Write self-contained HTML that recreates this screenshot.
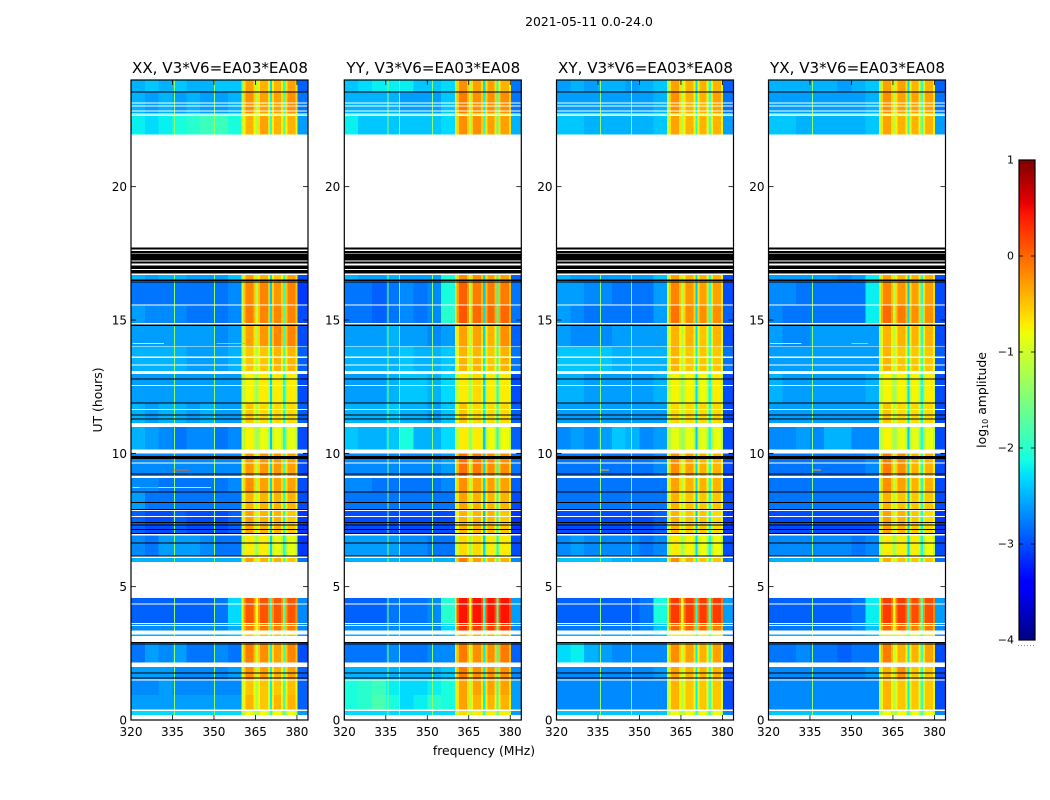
<!DOCTYPE html>
<html>
<head>
<meta charset="utf-8">
<title>2021-05-11 0.0-24.0</title>
<style>
html,body{margin:0;padding:0;background:#fff;width:1050px;height:800px;overflow:hidden}
svg{display:block}
text{font-family:"DejaVu Sans","Liberation Sans",sans-serif;fill:#000}
</style>
</head>
<body>
<svg id="figure" xmlns="http://www.w3.org/2000/svg" width="1050" height="800" viewBox="0 0 1050 800">
<text x="589" y="26" font-size="12.4" text-anchor="middle">2021-05-11 0.0-24.0</text>
<text transform="translate(102,400) rotate(-90)" font-size="12.4" text-anchor="middle">UT (hours)</text>
<text x="484" y="755" font-size="12.4" text-anchor="middle">frequency (MHz)</text>
<text transform="translate(986,400) rotate(-90)" font-size="12.4" text-anchor="middle">log<tspan font-size="8" dy="2">10</tspan><tspan dy="-2"> amplitude</tspan></text>
<g id="panels"></g>
<g id="colorbar"></g>
</svg>
<script>
// Frequency cells (MHz). Matrix columns: 8 background cells, edge cell, 4 band blocks, right cell.
var freqEdges = [320,325,330,335,340,345,350,355,360,360.6];
var blockStart = [360.6,365.8,370.9,375.7];
var blockEnd = [365,370.2,375,380.2];
var rightStart = 380.2, rightEnd = 384;
// Time rows (hours), top of image first.
var rowStart = [24,23.53,22.72,22.65,16.68,16.42,15.54,14.78,14,12.98,11.88,10.98,10,9.07,8.55,7.83,6.91,6.08,4.57,3.6,3.21,2.93,1.98,1.48,.94,.34];
var rowEnd = [23.56,22.75,22.68,21.95,16.42,15.59,14.88,14.03,13.08,11.91,11.13,10.15,9.15,8.56,7.88,6.99,6.15,5.92,3.64,3.35,3.15,2.15,1.52,.94,.39,.19];
// Narrow gaps between the band blocks, log10 amplitude per row.
var gapStart = [365,370.2,375];
var gapEnd = [365.8,370.9,375.7];
var gapValues365 = [-1.2,-1.2,-1,-1.2,-1.2,-1.2,-1.1,-1.2,-1.2,-1.3,-1.2,-1.3,-1.2,-1.2,-1.2,-1.2,-1.3,-1.1,-.9,-.9,-1.1,-1.1,-1.2,-1.2,-1.2,-1.2];
var gapValues370 = [-2.3,-2.2,-1.3,-2,-2.3,-2.4,-2.3,-2.3,-2.2,-2.3,-2.2,-2.4,-2.3,-2.3,-2.4,-2.4,-2.3,-2.1,-2.1,-2,-1.9,-2.2,-2.2,-2.2,-2.2,-2];
var gapValues375 = [-2,-1.9,-1.2,-1.7,-2,-2,-1.9,-2,-1.9,-2.1,-2,-2.1,-2,-2,-2,-2.1,-2.1,-1.9,-1.8,-1.7,-1.7,-1.9,-1.9,-1.9,-1.9,-1.8];
// log10 amplitude per row and column.
var valuesXX = [
[-2.5,-2.4,-2.5,-2.4,-2.5,-2.5,-2.4,-2.4,-1.4,-.3,-.4,-.4,-.3,-2.9],
[-2.5,-2.6,-2.5,-2.6,-2.5,-2.6,-2.6,-2.5,-1.2,-.2,-.3,-.3,-.2,-2.8],
[-2,-2,-1.9,-1.9,-1.9,-1.9,-1.9,-1.9,-1,-.8,-.8,-.8,-.8,-2.2],
[-2.2,-2.3,-2.2,-2.1,-2,-1.9,-1.9,-2.1,-1,-.4,-.3,-.4,-.4,-2.6],
[-2.5,-2.6,-2.5,-2.5,-2.6,-2.6,-2.6,-2.4,-1.2,-.3,-.4,-.5,-.3,-3],
[-2.8,-2.8,-2.8,-2.8,-2.8,-2.8,-2.8,-2.7,-1.1,-.15,-.15,-.25,-.15,-3.1],
[-2.6,-2.7,-2.7,-2.7,-2.8,-2.8,-2.8,-2.7,-1.1,-.1,-.15,-.15,-.15,-3],
[-2.6,-2.6,-2.6,-2.6,-2.6,-2.6,-2.7,-2.6,-1.2,-.3,-.25,-.15,-.15,-3],
[-2.5,-2.5,-2.5,-2.5,-2.6,-2.6,-2.6,-2.5,-1.2,-.5,-.5,-.4,-.4,-2.9],
[-2.6,-2.6,-2.6,-2.6,-2.6,-2.6,-2.6,-2.6,-1.1,-.75,-.7,-.7,-.7,-3],
[-2.5,-2.6,-2.5,-2.5,-2.6,-2.5,-2.6,-2.6,-1.1,-.5,-.6,-.6,-.6,-2.9],
[-2.5,-2.6,-2.7,-2.8,-2.7,-2.7,-2.8,-2.7,-1.1,-.75,-.85,-.85,-.85,-3],
[-2.7,-2.7,-2.7,-2.7,-2.7,-2.7,-2.7,-2.7,-1,-.25,-.25,-.25,-.3,-3],
[-2.7,-2.7,-2.8,-2.8,-2.8,-2.8,-2.8,-2.7,-1,-.2,-.3,-.3,-.3,-3],
[-2.6,-2.8,-2.8,-2.8,-2.8,-2.8,-2.8,-2.8,-1.1,-.4,-.4,-.4,-.4,-3],
[-2.9,-3,-3,-2.9,-3,-3,-3,-2.9,-1.1,-.3,-.4,-.4,-.5,-3.1],
[-2.7,-2.8,-2.6,-2.6,-2.6,-2.7,-2.8,-2.8,-1.1,-.7,-.7,-.85,-.85,-3.1],
[-2.5,-2.5,-2.5,-2.5,-2.5,-2.5,-2.5,-2.5,-1,-.3,-.4,-.4,-.5,-2.8],
[-2.9,-2.9,-2.9,-2.9,-2.9,-2.9,-2.8,-2.3,-.9,.1,.1,.1,.1,-2.7],
[-2.7,-2.7,-2.7,-2.7,-2.7,-2.7,-2.7,-2.5,-.9,-.1,-.1,-.1,-.1,-2.7],
[-2.5,-2.5,-2.5,-2.5,-2.5,-2.5,-2.5,-2.4,-1,-.5,-.5,-.5,-.5,-2.6],
[-2.8,-2.6,-2.7,-2.6,-2.8,-2.8,-2.7,-2.8,-1,-.1,-.2,-.3,-.15,-3],
[-2.6,-2.6,-2.6,-2.7,-2.7,-2.7,-2.7,-2.6,-1,-.2,-.3,-.4,-.3,-2.9],
[-2.7,-2.7,-2.6,-2.7,-2.7,-2.7,-2.7,-2.7,-1,-.5,-.5,-.5,-.45,-2.9],
[-2.6,-2.6,-2.6,-2.6,-2.6,-2.6,-2.6,-2.6,-1,-.4,-.5,-.4,-.4,-2.9],
[-2.3,-2.3,-2.3,-2.3,-2.3,-2.3,-2.3,-2.3,-1.1,-.8,-.8,-.8,-.8,-2.6]
];
var valuesYY = [
[-2.4,-2.3,-2.2,-2.2,-2.2,-2.4,-2.4,-2.3,-1.2,-.2,-.3,-.3,-.4,-2.8],
[-2.5,-2.5,-2.5,-2.5,-2.6,-2.6,-2.6,-2.4,-1.1,-.1,-.2,-.2,-.2,-2.8],
[-2,-2,-1.9,-1.9,-1.9,-1.9,-1.9,-1.9,-1,-.7,-.7,-.7,-.7,-2.2],
[-2.2,-2.4,-2.4,-2.4,-2.4,-2.4,-2.4,-2.3,-1,-.2,-.2,-.3,-.3,-2.5],
[-2.5,-2.6,-2.6,-2.5,-2.6,-2.6,-2.6,-2.1,-1,-.2,-.2,-.3,-.3,-2.9],
[-2.8,-2.8,-2.9,-2.8,-2.7,-2.8,-2.7,-2.1,-.9,.05,-.1,-.1,-.1,-2.8],
[-2.8,-2.8,-2.9,-2.8,-2.7,-2.8,-2.7,-2,-.8,.1,0,0,0,-2.8],
[-2.6,-2.6,-2.6,-2.5,-2.6,-2.6,-2.7,-2.6,-1,-.3,-.3,-.4,-.2,-2.9],
[-2.5,-2.5,-2.5,-2.5,-2.4,-2.5,-2.5,-2.4,-1.1,-.4,-.4,-.5,-.4,-2.8],
[-2.6,-2.6,-2.6,-2.5,-2.4,-2.4,-2.5,-2.3,-1,-.7,-.6,-.7,-.7,-3],
[-2.5,-2.5,-2.5,-2.4,-2.5,-2.5,-2.6,-2.4,-1,-.5,-.6,-.6,-.6,-2.9],
[-2.4,-2.5,-2.5,-2.4,-2.1,-2.5,-2.5,-2.3,-1.1,-.7,-.7,-.8,-.8,-2.9],
[-2.7,-2.7,-2.7,-2.7,-2.7,-2.7,-2.7,-2.6,-1,-.05,-.1,-.2,-.2,-2.8],
[-2.7,-2.7,-2.8,-2.8,-2.8,-2.8,-2.8,-2.7,-1,-.2,-.3,-.3,-.3,-2.9],
[-2.8,-2.8,-2.8,-2.8,-2.8,-2.8,-2.8,-2.8,-1.1,-.3,-.4,-.4,-.4,-3],
[-3,-3,-3,-3,-3,-3,-3,-3,-1.1,-.4,-.4,-.4,-.5,-3.1],
[-2.6,-2.6,-2.6,-2.6,-2.7,-2.7,-2.8,-2.8,-1.1,-.6,-.6,-.7,-.7,-3],
[-2.5,-2.5,-2.5,-2.5,-2.5,-2.5,-2.5,-2.5,-1,-.1,-.3,-.4,-.4,-2.7],
[-2.9,-2.9,-2.9,-2.8,-2.8,-2.8,-2.7,-2,-.8,.45,.45,.45,.45,-2.6],
[-2.7,-2.7,-2.7,-2.7,-2.7,-2.7,-2.7,-2.3,-.9,.3,.25,.25,.25,-2.7],
[-2.5,-2.5,-2.5,-2.5,-2.5,-2.5,-2.5,-2.4,-1,-.4,-.4,-.4,-.4,-2.6],
[-2.8,-2.8,-2.8,-2.7,-2.8,-2.8,-2.7,-2.7,-1,-.1,-.2,-.2,-.1,-2.9],
[-2.5,-2.5,-2.5,-2.5,-2.5,-2.5,-2.5,-2.4,-1,-.1,-.2,-.2,-.2,-2.7],
[-2.1,-2,-1.9,-2.2,-2.3,-2.3,-2.2,-2.1,-1,-.3,-.3,-.3,-.3,-2.6],
[-2.1,-2,-1.8,-2.1,-2.3,-2.2,-2,-2.1,-1,-.3,-.4,-.4,-.4,-2.6],
[-2.3,-2.3,-2.3,-2.3,-2.3,-2.3,-2.3,-2.3,-1.1,-.6,-.7,-.7,-.7,-2.6]
];
var valuesXY = [
[-2.6,-2.5,-2.6,-2.5,-2.5,-2.6,-2.5,-2.4,-1.3,-.3,-.4,-.4,-.4,-2.9],
[-2.6,-2.6,-2.6,-2.6,-2.6,-2.6,-2.6,-2.5,-1.2,-.2,-.4,-.4,-.3,-2.8],
[-2,-2,-2,-2,-2,-2,-2,-1.9,-1,-.8,-.8,-.8,-.8,-2.2],
[-2.4,-2.4,-2.5,-2.5,-2.5,-2.5,-2.5,-2.4,-1,-.3,-.4,-.4,-.4,-2.6],
[-2.5,-2.6,-2.6,-2.6,-2.6,-2.6,-2.6,-2.4,-1.1,-.3,-.4,-.4,-.4,-3],
[-2.6,-2.6,-2.7,-2.7,-2.8,-2.8,-2.8,-2.6,-1,-.15,-.25,-.3,-.3,-3],
[-2.6,-2.7,-2.8,-2.8,-2.8,-2.8,-2.8,-2.6,-1,-.05,-.2,-.2,-.2,-2.9],
[-2.6,-2.7,-2.7,-2.7,-2.6,-2.6,-2.6,-2.6,-1.1,-.4,-.4,-.5,-.4,-3],
[-2.4,-2.4,-2.4,-2.4,-2.5,-2.5,-2.5,-2.5,-1.1,-.4,-.5,-.5,-.5,-2.8],
[-2.5,-2.5,-2.6,-2.6,-2.6,-2.6,-2.6,-2.5,-1,-.75,-.75,-.8,-.7,-3],
[-2.6,-2.6,-2.6,-2.6,-2.6,-2.6,-2.6,-2.6,-1.1,-.6,-.6,-.6,-.6,-3],
[-2.7,-2.6,-2.7,-2.6,-2.4,-2.5,-2.7,-2.6,-1.1,-.85,-.85,-.85,-.85,-3],
[-2.8,-2.8,-2.8,-2.8,-2.8,-2.8,-2.8,-2.7,-1,-.2,-.3,-.4,-.4,-3],
[-2.8,-2.8,-2.8,-2.8,-2.8,-2.8,-2.8,-2.8,-1,-.3,-.4,-.4,-.4,-3],
[-2.8,-2.8,-2.8,-2.8,-2.8,-2.8,-2.8,-2.8,-1.1,-.4,-.5,-.5,-.5,-3],
[-3,-3,-3,-3,-3,-3,-3,-2.9,-1.1,-.4,-.5,-.5,-.6,-3.1],
[-2.7,-2.6,-2.7,-2.7,-2.7,-2.7,-2.8,-2.7,-1.1,-.7,-.75,-.8,-.8,-3],
[-2.4,-2.4,-2.4,-2.4,-2.5,-2.5,-2.5,-2.5,-1,-.2,-.4,-.5,-.5,-2.8],
[-2.9,-2.9,-2.9,-2.9,-2.9,-2.9,-2.8,-2.1,-.9,.25,.25,.25,.25,-2.6],
[-2.8,-2.8,-2.8,-2.8,-2.8,-2.8,-2.7,-2.4,-1,0,0,0,-.1,-2.7],
[-2.5,-2.5,-2.5,-2.5,-2.5,-2.5,-2.5,-2.4,-1.1,-.7,-.7,-.7,-.7,-2.6],
[-2.3,-2.2,-2.5,-2.6,-2.7,-2.7,-2.7,-2.7,-1,-.2,-.3,-.4,-.3,-3],
[-2.7,-2.7,-2.7,-2.7,-2.7,-2.7,-2.7,-2.6,-1.1,-.3,-.4,-.4,-.4,-3],
[-2.7,-2.7,-2.7,-2.7,-2.7,-2.7,-2.7,-2.7,-1.1,-.4,-.5,-.5,-.5,-3],
[-2.7,-2.7,-2.7,-2.7,-2.7,-2.7,-2.7,-2.7,-1.1,-.4,-.5,-.5,-.5,-3],
[-2.4,-2.4,-2.4,-2.4,-2.4,-2.4,-2.4,-2.4,-1.1,-.8,-.8,-.8,-.8,-2.7]
];
var valuesYX = [
[-2.5,-2.5,-2.5,-2.5,-2.5,-2.6,-2.5,-2.4,-1.3,-.3,-.3,-.4,-.4,-2.9],
[-2.6,-2.6,-2.6,-2.6,-2.6,-2.6,-2.6,-2.5,-1.2,-.2,-.3,-.3,-.3,-2.8],
[-2,-2,-2,-2,-2,-2,-2,-1.9,-1,-.8,-.8,-.8,-.8,-2.2],
[-2.4,-2.4,-2.5,-2.5,-2.5,-2.5,-2.5,-2.4,-1,-.3,-.4,-.4,-.4,-2.6],
[-2.6,-2.6,-2.6,-2.6,-2.6,-2.7,-2.6,-2.2,-1.1,-.3,-.4,-.4,-.4,-3],
[-2.7,-2.7,-2.8,-2.8,-2.8,-2.8,-2.8,-2.2,-1,-.15,-.25,-.3,-.3,-3],
[-2.7,-2.8,-2.8,-2.8,-2.8,-2.8,-2.8,-2.2,-.9,0,-.1,-.2,-.2,-3],
[-2.6,-2.7,-2.7,-2.6,-2.6,-2.6,-2.6,-2.6,-1.1,-.4,-.4,-.4,-.4,-3],
[-2.6,-2.6,-2.6,-2.6,-2.6,-2.6,-2.6,-2.6,-1.1,-.4,-.5,-.5,-.5,-2.9],
[-2.5,-2.6,-2.6,-2.6,-2.6,-2.6,-2.6,-2.5,-1,-.75,-.75,-.75,-.7,-3],
[-2.6,-2.6,-2.6,-2.6,-2.6,-2.6,-2.6,-2.6,-1.1,-.5,-.6,-.6,-.6,-3],
[-2.7,-2.7,-2.6,-2.7,-2.5,-2.5,-2.7,-2.7,-1.1,-.75,-.85,-.85,-.85,-3],
[-2.8,-2.8,-2.8,-2.8,-2.8,-2.8,-2.8,-2.7,-1,-.1,-.2,-.4,-.4,-3],
[-2.8,-2.8,-2.8,-2.8,-2.8,-2.8,-2.8,-2.8,-1,-.2,-.3,-.4,-.4,-3],
[-2.8,-2.8,-2.8,-2.8,-2.8,-2.8,-2.8,-2.8,-1.1,-.4,-.5,-.5,-.5,-3],
[-3,-3,-3,-3,-3,-3,-3,-3,-1.1,-.3,-.4,-.5,-.6,-3.1],
[-2.7,-2.7,-2.7,-2.7,-2.7,-2.7,-2.8,-2.7,-1.1,-.7,-.7,-.7,-.8,-3],
[-2.5,-2.5,-2.5,-2.5,-2.5,-2.5,-2.5,-2.5,-1,-.4,-.5,-.5,-.5,-2.8],
[-2.9,-2.9,-2.9,-2.9,-2.9,-2.9,-2.8,-2.2,-.9,.25,.25,.15,.15,-2.6],
[-2.8,-2.8,-2.8,-2.8,-2.8,-2.8,-2.7,-2.4,-1,0,0,-.1,-.1,-2.7],
[-2.5,-2.5,-2.5,-2.5,-2.5,-2.5,-2.5,-2.4,-1.1,-.7,-.7,-.7,-.7,-2.6],
[-2.8,-2.8,-2.7,-2.8,-2.8,-2.9,-2.8,-2.8,-1,-.1,-.4,-.4,-.3,-3],
[-2.7,-2.7,-2.7,-2.7,-2.7,-2.7,-2.7,-2.6,-1.1,-.4,-.2,-.5,-.5,-3],
[-2.7,-2.7,-2.7,-2.7,-2.7,-2.7,-2.7,-2.7,-1.1,-.4,-.5,-.5,-.5,-3],
[-2.7,-2.7,-2.7,-2.7,-2.7,-2.7,-2.7,-2.7,-1.1,-.4,-.5,-.5,-.5,-3],
[-2.4,-2.4,-2.4,-2.4,-2.4,-2.4,-2.4,-2.4,-1.1,-.8,-.8,-.8,-.8,-2.7]
];
// Narrow always-on interference channels per panel (MHz) and their amplitude.
var channelsXX = [335.6,350];
var channelsYY = [335.6,339.7,351.7];
var channelsXY = [335.8,347];
var channelsYX = [335.8];
var channelLevel = -1.4;
// Flagged time ranges (hours): [start, end] painted over the data.
var whiteRows = [[23.16,23.13],[23.05,23.02],[22.86,22.83],[22.75,22.72],[22.68,22.65],[15.59,15.54],[14.88,14.84],[13.63,13.57],[13.33,13.3],[12.56,12.54],[11.67,11.65],[9.66,9.63],[7.65,7.62],[4.36,4.33],[3.56,3.54],[1.52,1.48]];
var blackRows = [[23.56,23.53],[17.72,17.64],[17.58,17.52],[17.49,17.24],[17.19,17.12],[17.05,16.92],[16.87,16.74],[16.51,16.47],[16.45,16.42],[14.84,14.78],[12.81,12.78],[11.91,11.88],[11.45,11.42],[11.31,11.28],[9.9,9.79],[9.25,9.22],[8.57,8.55],[8.17,8.13],[7.92,7.88],[7.43,7.41],[7.33,7.31],[7.16,7.12],[7.01,6.97],[6.65,6.61],[6.16,6.13],[2.92,2.9],[2.86,2.84],[1.79,1.76],[1.6,1.57]];
// Bright horizontal streaks: [hour, start MHz, end MHz, log10 amplitude].
var streaksXX = [[14.14,320.5,332,-.8],[14.14,351,362,-.4],[9.4,335,341,.1],[8.73,320.5,349,-1],[8.73,323,330,-.2]];
var streaksYY = [];
var streaksXY = [[9.4,336,339,-.4]];
var streaksYX = [[14.14,320.5,332,-.8],[14.14,350,356,-.5],[9.4,336,339,-.3]];
// Axis ticks.
var freqTicks = [320,335,350,365,380];
var hourTicks = [0,5,10,15,20];
var colorTicks = [1,0,-1,-2,-3,-4];
var colorTickLabels = ['1','0','\u22121','\u22122','\u22123','\u22124'];
var panelTitles = ['XX, V3*V6=EA03*EA08','YY, V3*V6=EA03*EA08','XY, V3*V6=EA03*EA08','YX, V3*V6=EA03*EA08'];
var panelValues = [valuesXX,valuesYY,valuesXY,valuesYX];
var panelChannels = [channelsXX,channelsYY,channelsXY,channelsYX];
var panelStreaks = [streaksXX,streaksYY,streaksXY,streaksYX];
var panelLeft = [131,344.3,556.5,768.5];
var panelWidth = 177, plotTop = 80, plotBottom = 720;
var rimWidth = .7, rimDrop = .35;
var NS = 'http://www.w3.org/2000/svg';

function yScale(h){ return plotBottom - (h/24)*(plotBottom-plotTop); }
function xScale(left,f){ return left + (f-320)/64*panelWidth; }
function colorPos(v){ return 640 - (v+4)/5*480; }
function seg(p,t){
  for(var i=1;i<p.length;i++){ if(t<=p[i][0]){ var a=p[i-1],b=p[i]; return a[1]+(b[1]-a[1])*(t-a[0])/(b[0]-a[0]); } }
  return p[p.length-1][1];
}
var jetR=[[0,0],[.35,0],[.66,1],[.89,1],[1,.5]], jetG=[[0,0],[.125,0],[.375,1],[.64,1],[.91,0],[1,0]], jetB=[[0,.5],[.11,1],[.34,1],[.65,0],[1,0]];
function jet(v){
  var t=Math.max(0,Math.min(1,(v+4)/5));
  return 'rgb('+Math.round(seg(jetR,t)*255)+','+Math.round(seg(jetG,t)*255)+','+Math.round(seg(jetB,t)*255)+')';
}
function mk(parent,tag,attrs){
  var e=document.createElementNS(NS,tag);
  for(var k in attrs){ e.setAttribute(k,attrs[k]); }
  parent.appendChild(e);
  return e;
}
var panelsG=document.getElementById('panels');
panelTitles.forEach(function(title,p){
  var left=panelLeft[p], right=left+panelWidth;
  var g=mk(panelsG,'g',{});
  
  
  var cells=mk(g,'g',{'shape-rendering':'crispEdges'});
  
  
  function cell(f0,f1,y0,y1,v){
    var x0=xScale(left,f0), x1=xScale(left,f1);
    var c=mk(cells,'rect',{x:x0,y:y0,width:x1-x0+.3,height:y1-y0,fill:jet(v)});
    
    
  }
  panelValues[p].forEach(function(row,r){
    var y0=yScale(rowStart[r]), y1=yScale(rowEnd[r]);
    for(var c=0;c<9;c++){ cell(freqEdges[c],freqEdges[c+1],y0,y1,row[c]); }
    for(var b=0;b<4;b++){
      var v=row[9+b];
      cell(blockStart[b],blockEnd[b],y0,y1,v);
      cell(blockStart[b],blockStart[b]+rimWidth,y0,y1,v-rimDrop);
      cell(blockEnd[b]-rimWidth,blockEnd[b],y0,y1,v-rimDrop);
    }
    cell(gapStart[0],gapEnd[0],y0,y1,gapValues365[r]);
    cell(gapStart[1],gapEnd[1],y0,y1,gapValues370[r]);
    cell(gapStart[2],gapEnd[2],y0,y1,gapValues375[r]);
    cell(rightStart,rightEnd,y0,y1,row[13]);
    panelChannels[p].forEach(function(f){
      var line=mk(cells,'rect',{x:xScale(left,f),y:y0,width:1,height:y1-y0,fill:jet(channelLevel)});
      
      
    });
  });
  panelStreaks[p].forEach(function(s){
    var st=mk(cells,'rect',{x:xScale(left,s[1]),y:yScale(s[0]),width:xScale(left,s[2])-xScale(left,s[1]),height:1,fill:jet(s[3])});
    
    
  });
  whiteRows.forEach(function(w){
    var wr=mk(cells,'rect',{x:left,y:yScale(w[0]),width:panelWidth,height:Math.max(1,yScale(w[1])-yScale(w[0])),fill:'#fff'});
    
    
  });
  blackRows.forEach(function(b){
    var br=mk(cells,'rect',{x:left,y:yScale(b[0]),width:panelWidth,height:Math.max(1,yScale(b[1])-yScale(b[0])),fill:'#000'});
    
    
  });
  var frame=mk(g,'rect',{x:left,y:plotTop,width:panelWidth,height:plotBottom-plotTop,fill:'none',stroke:'#000','stroke-width':1.2});
  
  
  var t=mk(g,'text',{x:left+panelWidth/2+.5,y:73,'font-size':15.1,'text-anchor':'middle'});
  t.textContent=title;
  
  
  hourTicks.forEach(function(h){
    var y=yScale(h);
    var a=mk(g,'line',{x1:left,x2:left+5,y1:y,y2:y,stroke:'#000','stroke-width':.8});
    
    
    var a2=mk(g,'line',{x1:right-5,x2:right,y1:y,y2:y,stroke:'#000','stroke-width':.8});
    
    
    var l=mk(g,'text',{x:left-4,y:y+4.5,'font-size':12,'text-anchor':'end'});
    l.textContent=h;
    
    
  });
  freqTicks.forEach(function(f){
    var x=xScale(left,f);
    var a=mk(g,'line',{x1:x,x2:x,y1:plotBottom-5,y2:plotBottom,stroke:'#000','stroke-width':.8});
    
    
    var a2=mk(g,'line',{x1:x,x2:x,y1:plotTop,y2:plotTop+5,stroke:'#000','stroke-width':.8});
    
    
    var l=mk(g,'text',{x:x,y:736,'font-size':12,'text-anchor':'middle'});
    l.textContent=f;
    
    
  });
});
var cb=document.getElementById('colorbar');
for(var i=0;i<240;i++){
  var v0=-4+i*5/240;
  var band=mk(cb,'rect',{x:1019,y:colorPos(v0+5/240),width:16,height:2.3,fill:jet(v0+2.5/240),'shape-rendering':'crispEdges'});
  
  
}
var cbFrame=mk(cb,'rect',{x:1019,y:160,width:16,height:480,fill:'none',stroke:'#000','stroke-width':1.2});


colorTicks.forEach(function(v,i){
  var y=colorPos(v);
  var a=mk(cb,'line',{x1:1019,x2:1023,y1:y,y2:y,stroke:'#000','stroke-width':.8});
  
  
  var a2=mk(cb,'line',{x1:1031,x2:1035,y1:y,y2:y,stroke:'#000','stroke-width':.8});
  
  
  var l=mk(cb,'text',{x:1014,y:y+3.5,'font-size':11,'text-anchor':'end'});
  l.textContent=colorTickLabels[i];
  
  
});
var dots=mk(cb,'line',{x1:1018,x2:1035,y1:645.5,y2:645.5,stroke:'#888','stroke-width':1,'stroke-dasharray':'1 2'});


</script>
</body>
</html>
